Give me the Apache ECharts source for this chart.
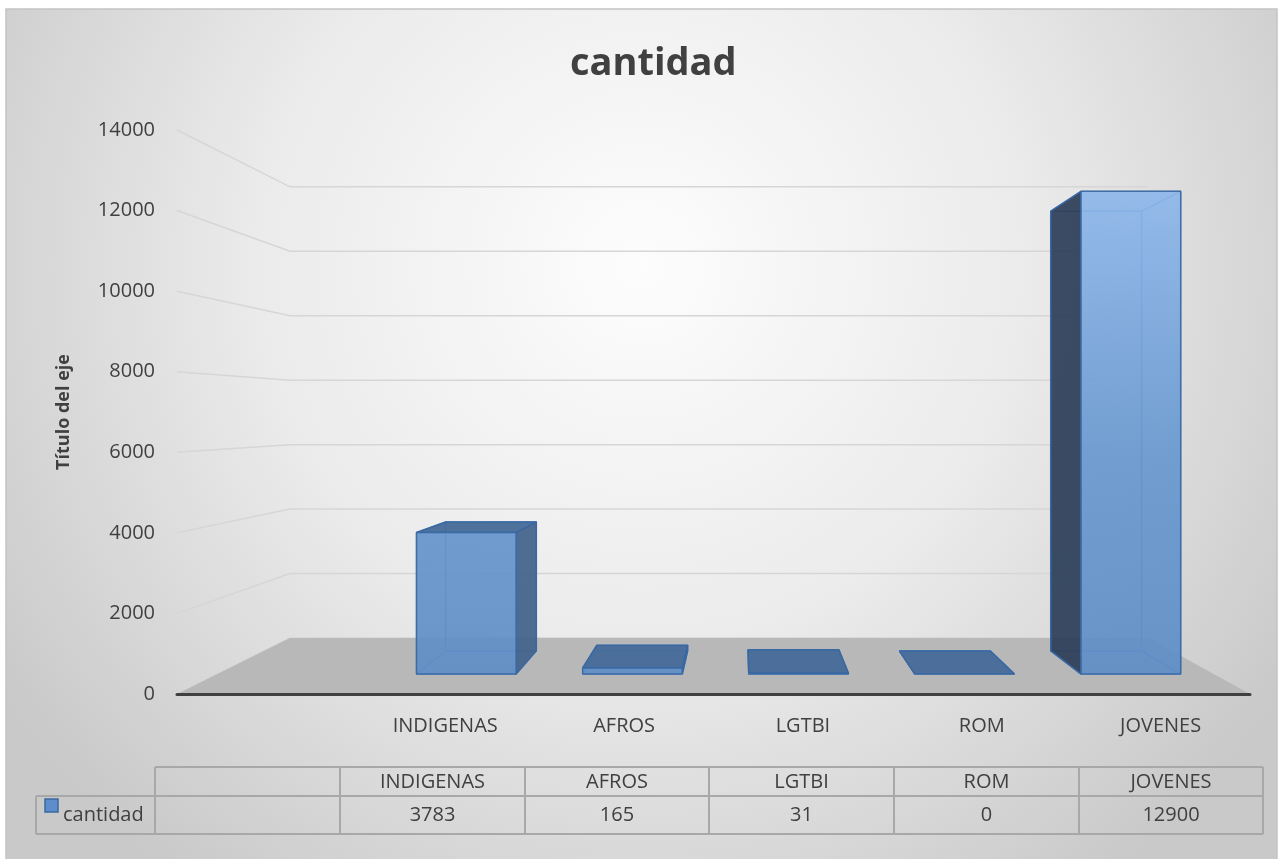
<!DOCTYPE html>
<html>
<head>
<meta charset="utf-8">
<title>cantidad</title>
<script src="https://cdn.jsdelivr.net/npm/echarts@6/dist/echarts.min.js"></script>
<style>
  html, body { margin: 0; padding: 0; background: #ffffff; }
  #main { width: 1283px; height: 859px; }
</style>
</head>
<body>
<div id="main"></div>
<script>
// datos de la tabla
const categories = ['', 'INDIGENAS', 'AFROS', 'LGTBI', 'ROM', 'JOVENES']
const cantidad = [null, 3783, 165, 31, 0, 12900]
const yTicks = [0, 2000, 4000, 6000, 8000, 10000, 12000, 14000]
const seriesName = 'cantidad'

const FONT = '"Open Sans", "Liberation Sans", sans-serif'
const TEXT = '#404040'

// perspectiva: punto de fuga y escalas de profundidad
const VP = [742, 414]
const BACK = 0.8 // pared del fondo
const BAR_FRONT = 0.929
const BAR_BACK = 0.846

function proj (p, s) {
  return [VP[0] + (p[0] - VP[0]) * s, VP[1] + (p[1] - VP[1]) * s]
}

const frontFill = {
  type: 'linear', global: true, x: 0, y: 190, x2: 0, y2: 674,
  colorStops: [
    { offset: 0, color: '#8db7ea' },
    { offset: 0.55, color: '#6797cf' },
    { offset: 1, color: '#5e8dc6' }
  ]
}
const EDGE = '#3a68a2'
const INNER = '#5a8ccc'

function poly (pts, style) {
  style.lineJoin = 'bevel'
  return { type: 'polygon', shape: { points: pts }, style: style }
}

// paredes: lineas de division lateral y del fondo
function renderWalls (params, api) {
  const cs = params.coordSys
  const y = api.coord([0, api.value(1)])[1]
  const f = [cs.x, y]
  const b = proj(f, BACK)
  const br = proj([cs.x + cs.width, y], BACK)
  return {
    type: 'polyline',
    shape: { points: [f, b, br] },
    style: { stroke: '#d6d6d6', lineWidth: 1.5, fill: null }
  }
}

// piso gris
function renderFloor (params, api) {
  const cs = params.coordSys
  const y = api.coord([0, 0])[1]
  const fl = [cs.x, y]
  const fr = [cs.x + cs.width, y]
  return poly([fl, fr, proj(fr, BACK), proj(fl, BACK)], { fill: '#b8b8b8' })
}

// columnas 3D
function renderBar (params, api) {
  const v = api.value(1)
  if (v == null || isNaN(v)) return null
  const i = api.value(0)
  const top = api.coord([i, v])
  const base = api.coord([i, 0])
  const hw = api.size([1, 0])[0] * 0.3
  const L = top[0] - hw
  const R = top[0] + hw
  const T = top[1]
  const B = base[1]
  const f = {
    lt: proj([L, T], BAR_FRONT), rt: proj([R, T], BAR_FRONT),
    lb: proj([L, B], BAR_FRONT), rb: proj([R, B], BAR_FRONT)
  }
  const k = {
    lt: proj([L, T], BAR_BACK), rt: proj([R, T], BAR_BACK),
    lb: proj([L, B], BAR_BACK), rb: proj([R, B], BAR_BACK)
  }
  const hidden = () => ({ fill: 'rgba(90,140,204,0.12)', stroke: INNER, lineWidth: 1.2 })
  const children = []
  // caras ocultas (se ven a traves)
  children.push(poly([k.lt, k.rt, k.rb, k.lb], hidden()))
  children.push(poly([f.lb, f.rb, k.rb, k.lb], hidden()))
  const leftVisible = L > VP[0]
  const rightVisible = R < VP[0]
  const topVisible = T > VP[1]
  if (!leftVisible) children.push(poly([f.lt, k.lt, k.lb, f.lb], hidden()))
  if (!rightVisible) children.push(poly([f.rt, k.rt, k.rb, f.rb], hidden()))
  if (!topVisible) children.push(poly([f.lt, f.rt, k.rt, k.lt], hidden()))
  // caras visibles
  if (leftVisible) {
    children.push(poly([f.lt, k.lt, k.lb, f.lb], { fill: 'rgba(44,62,88,0.92)', stroke: EDGE, lineWidth: 1.5 }))
  }
  if (rightVisible) {
    children.push(poly([f.rt, k.rt, k.rb, f.rb], { fill: 'rgba(66,98,138,0.92)', stroke: EDGE, lineWidth: 1.5 }))
  }
  if (topVisible) {
    children.push(poly([f.lt, f.rt, k.rt, k.lt], { fill: 'rgba(70,108,152,0.95)', stroke: EDGE, lineWidth: 1.5 }))
  }
  if (B - T > 0.5) {
    children.push(poly([f.lt, f.rt, f.rb, f.lb], { fill: frontFill, opacity: 0.9, stroke: EDGE, lineWidth: 1.5 }))
  }
  return { type: 'group', children: children }
}

// tabla de datos bajo el grafico
const colX = [155, 340, 525, 709, 894, 1079, 1263]
const rowY = [767, 796, 834]
const lineStyle = { stroke: '#a8a8a8', lineWidth: 2 }
const tableGraphics = []
tableGraphics.push({ type: 'line', shape: { x1: colX[0], y1: rowY[0], x2: colX[6], y2: rowY[0] }, style: lineStyle })
tableGraphics.push({ type: 'line', shape: { x1: 36, y1: rowY[1], x2: colX[6], y2: rowY[1] }, style: lineStyle })
tableGraphics.push({ type: 'line', shape: { x1: 36, y1: rowY[2], x2: colX[6], y2: rowY[2] }, style: lineStyle })
tableGraphics.push({ type: 'line', shape: { x1: 36, y1: rowY[1], x2: 36, y2: rowY[2] }, style: lineStyle })
colX.forEach(x => {
  tableGraphics.push({ type: 'line', shape: { x1: x, y1: rowY[0], x2: x, y2: rowY[2] }, style: lineStyle })
})
categories.forEach((c, i) => {
  const cx = (colX[i] + colX[i + 1]) / 2
  tableGraphics.push({
    type: 'text',
    style: { text: c, x: cx, y: 782, textAlign: 'center', textVerticalAlign: 'middle', fill: TEXT, font: '20px ' + FONT }
  })
  tableGraphics.push({
    type: 'text',
    style: { text: cantidad[i] == null ? '' : String(cantidad[i]), x: cx, y: 815, textAlign: 'center', textVerticalAlign: 'middle', fill: TEXT, font: '20px ' + FONT }
  })
})
tableGraphics.push({ type: 'rect', shape: { x: 45, y: 799, width: 13, height: 13 }, style: { fill: '#5d8ecb', stroke: '#3a68a2', lineWidth: 1.5 } })
tableGraphics.push({
  type: 'text',
  style: { text: seriesName, x: 63, y: 815, textAlign: 'left', textVerticalAlign: 'middle', fill: TEXT, font: '20px ' + FONT }
})

const chart = echarts.init(document.getElementById('main'))
const option = {
  backgroundColor: '#ffffff',
  animation: false,
  title: {
    text: 'cantidad',
    left: 565,
    top: 40,
    textStyle: { fontSize: 38, fontWeight: 'bold', color: TEXT, fontFamily: FONT }
  },
  grid: { left: 177, right: 33, top: 130, bottom: 165 },
  xAxis: {
    type: 'category',
    data: categories,
    z: 5,
    axisLine: { lineStyle: { color: '#404040', width: 3 } },
    axisTick: { show: false },
    axisLabel: { color: TEXT, fontSize: 20, margin: 22, fontFamily: FONT }
  },
  yAxis: {
    type: 'value',
    min: 0,
    max: 14000,
    interval: 2000,
    name: 'Título del eje',
    nameLocation: 'middle',
    nameRotate: 90,
    nameGap: 104,
    nameTextStyle: { fontSize: 18, fontWeight: 'bold', color: TEXT, fontFamily: FONT },
    axisLine: { show: false },
    axisTick: { show: false },
    splitLine: { show: false },
    axisLabel: { color: TEXT, fontSize: 20, margin: 22, fontFamily: FONT, formatter: v => String(v) }
  },
  graphic: [
    {
      type: 'rect',
      z: -10,
      silent: true,
      shape: { x: 6, y: 9, width: 1271, height: 852 },
      style: {
        fill: {
          type: 'radial', x: 0.5, y: 0.3, r: 0.9,
          colorStops: [
            { offset: 0, color: '#fdfdfd' },
            { offset: 0.5, color: '#ebebeb' },
            { offset: 1, color: '#c9c9c9' }
          ]
        },
        stroke: '#c4c4c4',
        lineWidth: 1.5
      }
    },
    { type: 'group', z: 10, silent: true, children: tableGraphics }
  ],
  series: [
    {
      type: 'custom',
      name: 'paredes',
      z: 1,
      silent: true,
      renderItem: renderWalls,
      data: yTicks.map(t => [0, t])
    },
    {
      type: 'custom',
      name: 'piso',
      z: 2,
      silent: true,
      renderItem: renderFloor,
      data: [[0, 0]]
    },
    {
      type: 'custom',
      name: seriesName,
      z: 3,
      renderItem: renderBar,
      encode: { x: 0, y: 1 },
      data: cantidad.map((v, i) => [i, v])
    }
  ]
}
option && chart.setOption(option)
</script>
</body>
</html>
